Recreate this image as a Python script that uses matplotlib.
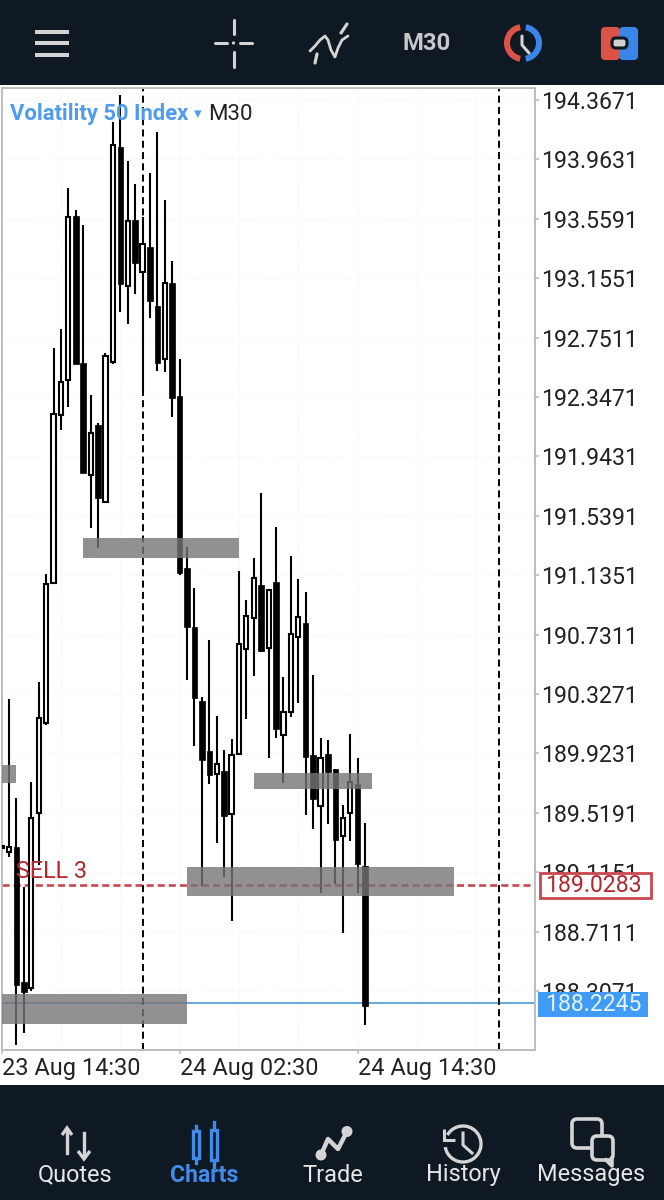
import matplotlib
matplotlib.use("Agg")
import matplotlib.pyplot as plt
import numpy as np
from matplotlib.patches import Arc, Circle, FancyBboxPatch, Polygon, Rectangle, Wedge

plt.rcParams['font.family'] = ['Roboto', 'DejaVu Sans']

candle_index = np.arange(-1, 49)
highs = [189.300, 190.293, 189.620, 189.014, 189.728, 190.409, 191.143, 192.680, 192.809, 193.768,
         193.619, 193.517, 192.360, 192.170, 192.646, 194.217, 194.401, 193.952, 193.796, 193.571,
         193.870, 194.149, 193.687, 193.272, 192.605, 191.327, 191.048, 190.307, 190.694, 190.177,
         189.946, 190.021, 191.163, 190.966, 191.252, 191.694, 191.034, 191.463, 190.443, 191.265,
         191.109, 191.021, 190.456, 190.028, 190.014, 189.817, 189.572, 190.055, 189.892, 189.450]
opens = [189.279, 189.252, 189.286, 188.368, 188.327, 189.518, 190.130, 191.082, 192.224, 192.463,
         193.578, 192.578, 191.816, 192.156, 191.633, 192.585, 194.047, 193.102, 193.551, 193.197,
         193.367, 192.966, 192.605, 193.122, 192.354, 191.184, 190.783, 190.279, 189.939, 189.783,
         189.803, 189.511, 189.919, 190.633, 190.844, 191.068, 190.640, 191.089, 190.048, 190.204,
         190.715, 190.810, 189.912, 189.565, 189.919, 189.817, 189.361, 189.518, 189.715, 189.157]
closes = [189.293, 189.286, 188.348, 188.300, 189.484, 190.164, 191.075, 192.231, 192.449, 193.571,
          192.571, 191.830, 192.102, 191.660, 192.626, 194.061, 193.115, 193.544, 193.258, 193.387,
          193.000, 192.578, 193.122, 192.340, 191.150, 190.783, 190.300, 189.878, 189.776, 189.851,
          189.497, 189.912, 190.667, 190.857, 191.116, 190.619, 191.034, 190.089, 190.204, 190.735,
          190.851, 189.898, 189.613, 189.892, 189.796, 189.334, 189.484, 189.728, 189.171, 188.205]
lows = [189.272, 189.218, 187.940, 188.021, 188.307, 189.164, 190.116, 191.082, 192.122, 192.279,
        192.571, 191.830, 191.456, 191.320, 191.633, 192.571, 192.925, 192.843, 193.047, 192.374,
        192.884, 192.524, 192.517, 192.211, 191.136, 190.422, 189.973, 189.021, 189.715, 189.314,
        189.082, 188.783, 189.919, 190.157, 190.449, 190.613, 189.892, 190.028, 189.722, 190.170,
        190.266, 189.504, 189.409, 188.973, 189.443, 189.035, 188.701, 189.327, 188.973, 188.076]

# grey supply/demand boxes: first candle, last candle, low price, high price
zone_start = [-1, 10, 33, 24, -1]
zone_end = [1, 31, 49, 60, 24]
zone_low = [189.722, 191.252, 189.681, 188.955, 188.086]
zone_high = [189.844, 191.388, 189.790, 189.150, 188.286]

price_ticks = [194.3671, 193.9631, 193.5591, 193.1551, 192.7511, 192.3471, 191.9431, 191.5391,
               191.1351, 190.7311, 190.3271, 189.9231, 189.5191, 189.1151, 188.7111, 188.3071]
time_ticks = [-1, 23, 47]
time_labels = ['23 Aug 14:30', '24 Aug 02:30', '24 Aug 14:30']
grid_candles = [7, 15, 31, 39, 55, 63]
separator_candles = [18, 66]
sell_price = 189.0283
last_price = 188.2245

FIG_W, FIG_H = 664, 1200
BAR_BG = '#0f1923'
ICON = '#d4d4d4'
BLUE = '#3f8ceb'
RED_LINE = '#c9474f'
RED_TEXT = '#b3262d'


def draw_chart(fig):
    left, right, top, bottom = 1.6, 535, 88, 1050
    ax = fig.add_axes([left / FIG_W, 1 - bottom / FIG_H, (right - left) / FIG_W, (bottom - top) / FIG_H])
    ax.set_xlim(-1, 70.92)
    ax.set_ylim(187.906, 194.448)

    ax.yaxis.tick_right()
    ax.set_yticks(price_ticks)
    ax.set_yticklabels(['{:.4f}'.format(p) for p in price_ticks])
    ax.set_xticks(time_ticks)
    ax.set_xticklabels(time_labels, ha='left')
    ax.set_xticks(grid_candles, minor=True)
    ax.tick_params(axis='y', length=3, width=1.2, color='#bdbdbd', labelsize=16.6, labelcolor='#222222', pad=1.2)
    ax.tick_params(axis='x', which='major', length=3, width=1.2, color='#bdbdbd', labelsize=16.9,
                   labelcolor='#222222', pad=2)
    ax.tick_params(axis='x', which='minor', length=0)
    ax.grid(True, which='both', color='#f1f1f1', linestyle=':', linewidth=0.7, zorder=0)
    ax.set_axisbelow(True)
    for spine in ax.spines.values():
        spine.set_color('#bdbdbd')
        spine.set_linewidth(1.4)

    ax.axhline(last_price, color='#4a9ad4', linewidth=1.2, zorder=1)
    ax.axhline(sell_price, color=RED_LINE, linewidth=1.9, dashes=(2.7, 1.5), zorder=1)
    for c in separator_candles:
        ax.axvline(c, color='black', linewidth=1.4, dashes=(3.6, 2.2), zorder=1.5)

    ax.vlines(candle_index, lows, highs, color='black', linewidth=1.5, zorder=2)
    for x, o, c in zip(candle_index, opens, closes):
        if c > o:
            ax.bar(x, c - o, bottom=o, width=0.56, facecolor='white', edgecolor='black', linewidth=1.5, zorder=3)
        else:
            ax.bar(x, o - c, bottom=c, width=0.74, facecolor='black', edgecolor='black', linewidth=0.5, zorder=3)

    for s, e, lo, hi in zip(zone_start, zone_end, zone_low, zone_high):
        ax.add_patch(Rectangle((s, lo), e - s, hi - lo, facecolor='#777577', edgecolor='none', alpha=0.8, zorder=4))

    ax.text(1.0, 189.076, 'SELL 3', color=RED_TEXT, fontsize=16.8, ha='left', va='baseline', zorder=5)
    return ax


def draw_top_bar(ui):
    ui.add_patch(Rectangle((0, 0), FIG_W, 85, facecolor=BAR_BG, edgecolor='none'))
    for y in [32, 43, 55]:
        ui.add_patch(Rectangle((35, y - 2), 34, 4, facecolor=ICON, edgecolor='none'))

    # crosshair
    for seg in [((215, 43), (227, 43)), ((240, 43), (252, 43)), ((233.5, 20), (233.5, 34)), ((233.5, 52), (233.5, 67))]:
        ui.plot(*zip(*seg), color=ICON, linewidth=2.2, solid_capstyle='round')
    ui.add_patch(Circle((233.5, 43), 1.6, facecolor=ICON))

    # indicator icon
    ui.plot([310, 315, 320, 325, 328, 331, 335, 338, 342, 348], [51, 46, 40, 36, 40, 50, 57, 48, 40, 36],
            color=ICON, linewidth=2, solid_capstyle='round')
    ui.plot([315, 317], [63, 54], color=ICON, linewidth=2.3, solid_capstyle='round')
    ui.plot([341, 347], [33, 24], color=ICON, linewidth=2.3, solid_capstyle='round')

    ui.text(426.5, 43.5, 'M30', color='#c8c8c8', fontsize=17.2, fontweight='bold', ha='center', va='center')

    # clock icon, red half and blue half
    ui.add_patch(Wedge((523, 43), 19, 100, 260, width=6, facecolor='#dc5246', edgecolor='none'))
    ui.add_patch(Wedge((523, 43), 19, -80, 80, width=6, facecolor='#3a86e8', edgecolor='none'))
    ui.plot([522, 522, 529], [36, 45, 53], color=ICON, linewidth=2.2, solid_capstyle='round')

    # one-click trading icon
    ui.add_patch(FancyBboxPatch((602, 28), 17, 31, boxstyle='round,pad=0,rounding_size=3', facecolor='#dc5246',
                                edgecolor='#dc5246', linewidth=1.5))
    ui.add_patch(FancyBboxPatch((620, 28), 17, 31, boxstyle='round,pad=0,rounding_size=3', facecolor='#3a86e8',
                                edgecolor='#3a86e8', linewidth=1.5))
    ui.add_patch(FancyBboxPatch((612, 38), 15, 10, boxstyle='round,pad=0,rounding_size=4', facecolor='#d0d0d0',
                                edgecolor=BAR_BG, linewidth=2.2))


def draw_bottom_bar(ui):
    ui.add_patch(Rectangle((0, 1085), FIG_W, 115, facecolor=BAR_BG, edgecolor='none'))

    # quotes arrows
    ui.plot([67, 67], [1130, 1153], color=ICON, linewidth=2.4)
    ui.add_patch(Polygon([(62, 1135), (67, 1128), (72, 1135)], closed=False, fill=False, edgecolor=ICON, linewidth=2.4))
    ui.plot([84, 84], [1133, 1157], color=ICON, linewidth=2.4)
    ui.add_patch(Polygon([(78, 1151), (84, 1159), (90, 1151)], closed=False, fill=False, edgecolor=ICON, linewidth=2.4))

    # charts candles
    for x, y0, y1, b0, b1 in [(196, 1126, 1163, 1131, 1158), (214, 1122, 1167, 1130, 1160)]:
        ui.plot([x, x], [y0, y1], color=BLUE, linewidth=2.4)
        ui.add_patch(Rectangle((x - 3, b0), 6, b1 - b0, facecolor=BAR_BG, edgecolor=BLUE, linewidth=2.4, zorder=3))

    # trade line
    ui.plot([321, 328, 338, 347], [1155, 1139, 1149, 1131.5], color=ICON, linewidth=3.2)
    ui.add_patch(Circle((321, 1155), 5.5, facecolor=ICON))
    ui.add_patch(Circle((347, 1131.5), 5.5, facecolor=ICON))

    # history clock
    ui.add_patch(Arc((463, 1144), 36, 36, theta1=-150, theta2=170, color=ICON, linewidth=2.4))
    ui.plot([463, 463, 472], [1133, 1145, 1153], color=ICON, linewidth=2.2)
    ui.add_patch(Polygon([(444, 1129), (444, 1140), (455, 1140)], closed=False, fill=False, edgecolor=ICON, linewidth=2.2))

    # messages bubbles
    ui.add_patch(FancyBboxPatch((572, 1119), 30, 29, boxstyle='round,pad=0,rounding_size=5', facecolor=BAR_BG,
                                edgecolor=ICON, linewidth=2.6))
    ui.add_patch(FancyBboxPatch((592, 1136), 21, 24, boxstyle='round,pad=0,rounding_size=5', facecolor=BAR_BG,
                                edgecolor=ICON, linewidth=2.6))
    ui.plot([606, 612, 612], [1160, 1166, 1158], color=ICON, linewidth=2.6)

    for x, label in zip([75, 333, 463, 591], ['Quotes', 'Trade', 'History', 'Messages']):
        ui.text(x, 1175, label, color='#e6e6e6', fontsize=16.9, ha='center', va='center')
    ui.text(204.5, 1175, 'Charts', color=BLUE, fontsize=16.6, fontweight='bold', ha='center', va='center')


def main():
    fig = plt.figure(figsize=(FIG_W / 100, FIG_H / 100), dpi=100, facecolor='white')
    draw_chart(fig)

    # pixel coordinates for everything around the chart
    ui = fig.add_axes([0, 0, 1, 1], facecolor='none')
    ui.set_xlim(0, FIG_W)
    ui.set_ylim(FIG_H, 0)
    ui.axis('off')
    draw_top_bar(ui)
    draw_bottom_bar(ui)

    ui.text(9.5, 114, 'Volatility 50 Index', color='#4f9bee', fontsize=15.8, fontweight='bold', ha='left', va='center')
    ui.text(194, 114, '\u25be', color='#4f9bee', fontsize=11, ha='left', va='center')
    ui.text(208, 114, 'M30', color='#222222', fontsize=16, ha='left', va='center')

    ui.add_patch(Rectangle((540, 873), 111, 25, facecolor='white', edgecolor=RED_LINE, linewidth=2))
    ui.text(593, 885.5, '{:.4f}'.format(sell_price), color=RED_TEXT, fontsize=16.6, ha='center', va='center')
    ui.add_patch(Rectangle((538, 992), 110, 25, facecolor='#3f9bf5', edgecolor='none'))
    ui.text(593, 1004.5, '{:.4f}'.format(last_price), color='#e8f3ff', fontsize=16.6, ha='center', va='center')

    fig.savefig('out.png', dpi=100)


if __name__ == "__main__":
    main()
